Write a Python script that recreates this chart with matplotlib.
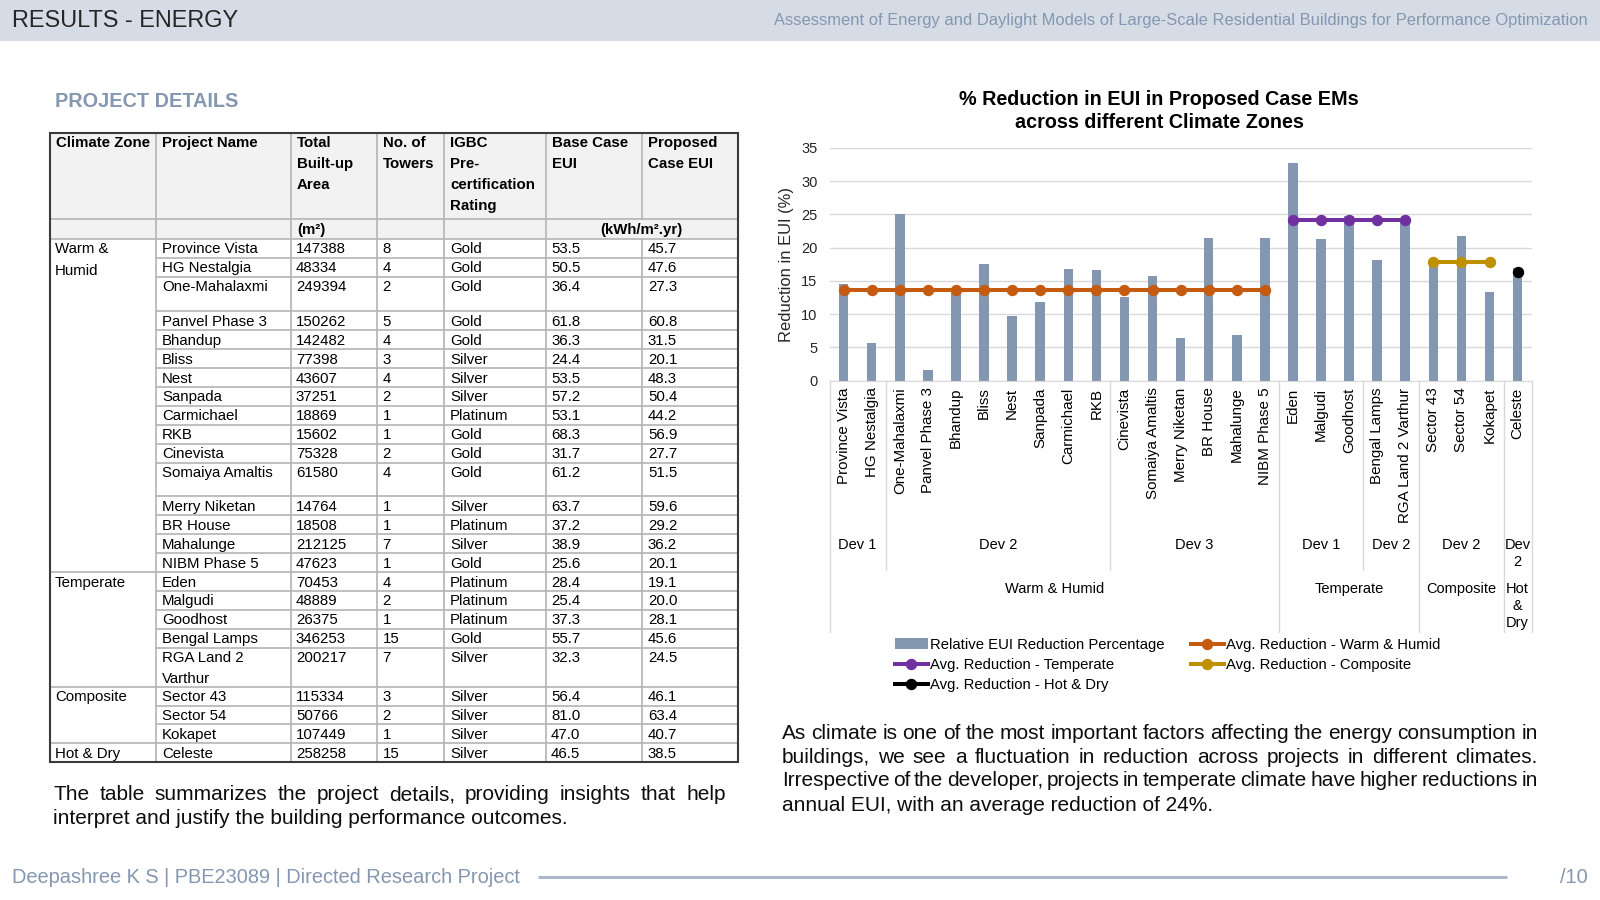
import numpy as np
import matplotlib
matplotlib.use('Agg')
import matplotlib.pyplot as plt
from matplotlib.patches import Rectangle
from matplotlib.transforms import blended_transform_factory

plt.rcParams['font.family'] = ['Liberation Sans', 'DejaVu Sans']

# ------------------------------------------------------------------ data
projects = ["Province Vista", "HG Nestalgia", "One-Mahalaxmi", "Panvel Phase 3", "Bhandup",
            "Bliss", "Nest", "Sanpada", "Carmichael", "RKB", "Cinevista", "Somaiya Amaltis",
            "Merry Niketan", "BR House", "Mahalunge", "NIBM Phase 5", "Eden", "Malgudi",
            "Goodhost", "Bengal Lamps", "RGA Land 2 Varthur", "Sector 43", "Sector 54",
            "Kokapet", "Celeste"]
table_project_names = [p if p != "RGA Land 2 Varthur" else "RGA Land 2\nVarthur" for p in projects]
built_up_area = [147388, 48334, 249394, 150262, 142482, 77398, 43607, 37251, 18869, 15602,
                 75328, 61580, 14764, 18508, 212125, 47623, 70453, 48889, 26375, 346253,
                 200217, 115334, 50766, 107449, 258258]
towers = [8, 4, 2, 5, 4, 3, 4, 2, 1, 1, 2, 4, 1, 1, 7, 1, 4, 2, 1, 15, 7, 3, 2, 1, 15]
igbc_rating = ["Gold", "Gold", "Gold", "Gold", "Gold", "Silver", "Silver", "Silver", "Platinum",
               "Gold", "Gold", "Gold", "Silver", "Platinum", "Silver", "Gold", "Platinum",
               "Platinum", "Platinum", "Gold", "Silver", "Silver", "Silver", "Silver", "Silver"]
base_eui = [53.5, 50.5, 36.4, 61.8, 36.3, 24.4, 53.5, 57.2, 53.1, 68.3, 31.7, 61.2, 63.7,
            37.2, 38.9, 25.6, 28.4, 25.4, 37.3, 55.7, 32.3, 56.4, 81.0, 47.0, 46.5]
proposed_eui = [45.7, 47.6, 27.3, 60.8, 31.5, 20.1, 48.3, 50.4, 44.2, 56.9, 27.7, 51.5, 59.6,
                29.2, 36.2, 20.1, 19.1, 20.0, 28.1, 45.6, 24.5, 46.1, 63.4, 40.7, 38.5]

table_zone_labels = ["Warm &\nHumid", "Temperate", "Composite", "Hot & Dry"]
chart_zone_labels = ["Warm & Humid", "Temperate", "Composite", "Hot\n&\nDry"]
zone_counts = [16, 5, 3, 1]
dev_labels = ["Dev 1", "Dev 2", "Dev 3", "Dev 1", "Dev 2", "Dev 2", "Dev\n2"]
dev_counts = [2, 8, 6, 3, 2, 3, 1]

reduction_pct = [14.6, 5.7, 25.0, 1.6, 13.2, 17.6, 9.7, 11.9, 16.8, 16.7, 12.6, 15.8, 6.4,
                 21.5, 6.9, 21.5, 32.7, 21.3, 24.7, 18.1, 24.1, 18.3, 21.7, 13.4, 17.0]
avg_reduction = [13.6, 24.2, 17.8, 16.4]   # Warm & Humid, Temperate, Composite, Hot & Dry
avg_labels = ["Avg. Reduction - Warm & Humid", "Avg. Reduction - Temperate",
              "Avg. Reduction - Composite", "Avg. Reduction - Hot & Dry"]
bar_label = "Relative EUI Reduction Percentage"

header_cols = ["Climate Zone", "Project Name", "Total\nBuilt-up\nArea", "No. of\nTowers",
               "IGBC\nPre-\ncertification\nRating", "Base Case\nEUI", "Proposed\nCase EUI"]

# ------------------------------------------------------------------ figure
W, H = 1568.0, 882.0
fig = plt.figure(figsize=(16, 9), dpi=100)
renderer = fig.canvas.get_renderer()
PX = 1600.0 / W

cv = fig.add_axes([0, 0, 1, 1])
cv.set_xlim(0, W)
cv.set_ylim(H, 0)
cv.axis('off')

def fy(y):
    return 1 - y / H

def fx(x):
    return x / W

# header band
cv.add_patch(Rectangle((0, 0), W, 40, color='#d6dce5', lw=0))
cv.text(12, 20, "RESULTS - ENERGY", fontsize=16.9, color='#262626', va='center', ha='left')
cv.text(1556, 20, "Assessment of Energy and Daylight Models of Large-Scale Residential Buildings for Performance Optimization",
        fontsize=11.9, color='#8497b0', va='center', ha='right')
cv.text(54, 99, "PROJECT DETAILS", fontsize=14.3, color='#8497b0', fontweight='bold', va='center')

# ------------------------------------------------------------------ table
cols_x = [49, 153, 285, 369, 435, 535, 629, 723]
t_top, t_hdr, t_units = 130, 215, 234
row_h = [18.55] * len(projects)
row_h[2] = 34
row_h[11] = 33
row_h[20] = 38
row_tops = [t_units]
for h in row_h:
    row_tops.append(row_tops[-1] + h)
t_bot = row_tops[-1]
fs_tab = 10.8
grid_c = '#b4b4b4'
tlw = 1.2

cv.add_patch(Rectangle((cols_x[0], t_top), cols_x[-1] - cols_x[0], t_units - t_top,
                       color='#f2f2f2', lw=0, zorder=0))
# vertical lines
for i, xc in enumerate(cols_x[1:-1], start=1):
    if i == 6:
        cv.plot([xc, xc], [t_top, t_hdr], color=grid_c, lw=tlw)
        cv.plot([xc, xc], [t_units, t_bot], color=grid_c, lw=tlw)
    else:
        cv.plot([xc, xc], [t_top, t_bot], color=grid_c, lw=tlw)
# horizontal lines
cv.plot([cols_x[0], cols_x[-1]], [t_hdr, t_hdr], color=grid_c, lw=tlw)
cv.plot([cols_x[0], cols_x[-1]], [t_units, t_units], color=grid_c, lw=tlw)
zone_starts = np.cumsum([0] + zone_counts)
for r in range(1, len(projects)):
    x0 = cols_x[0] if r in zone_starts else cols_x[1]
    cv.plot([x0, cols_x[-1]], [row_tops[r], row_tops[r]], color=grid_c, lw=tlw)
cv.add_patch(Rectangle((cols_x[0], t_top), cols_x[-1] - cols_x[0], t_bot - t_top,
                       fill=False, ec='#3a3a3a', lw=1.5, zorder=5))

def cell_text(x, ytop, s, bold=False, step=20.4, first=10.2):
    for k, line in enumerate(s.split('\n')):
        cv.text(x, ytop + first + k * step, line, fontsize=fs_tab, va='center', ha='left',
                fontweight='bold' if bold else 'normal', color='#000000')

for c, hdr in enumerate(header_cols):
    cell_text(cols_x[c] + 6, t_top, hdr, bold=True)
cv.text(cols_x[2] + 6, 225, "(m²)", fontsize=fs_tab, fontweight='bold', va='center', ha='left')
cv.text(cols_x[6], 225, "(kWh/m².yr)", fontsize=fs_tab, fontweight='bold', va='center', ha='center')

for z, zl in enumerate(table_zone_labels):
    cell_text(cols_x[0] + 5, row_tops[zone_starts[z]], zl, step=21)
for r in range(len(projects)):
    yt = row_tops[r]
    cell_text(cols_x[1] + 6, yt, table_project_names[r], step=20)
    cell_text(cols_x[2] + 5, yt, f"{built_up_area[r]}")
    cell_text(cols_x[3] + 6, yt, f"{towers[r]}")
    cell_text(cols_x[4] + 6, yt, igbc_rating[r])
    cell_text(cols_x[5] + 5, yt, f"{base_eui[r]:.1f}")
    cell_text(cols_x[6] + 6, yt, f"{proposed_eui[r]:.1f}")

# ------------------------------------------------------------------ paragraphs
fs_par = 15.0

def para_line(s, x0, x1, y, justify=True):
    if not justify:
        cv.text(x0, y, s, fontsize=fs_par, va='center', ha='left', color='#0d0d0d')
        return
    words = s.split(' ')
    widths = []
    for w in words:
        t = cv.text(0, 0, w, fontsize=fs_par)
        widths.append(t.get_window_extent(renderer).width / PX)
        t.remove()
    gap = (x1 - x0 - sum(widths)) / (len(words) - 1)
    x = x0
    for w, wd in zip(words, widths):
        cv.text(x, y, w, fontsize=fs_par, va='center', ha='left', color='#0d0d0d')
        x += wd + gap

para_line("The table summarizes the project details, providing insights that help", 52, 711, 779)
para_line("interpret and justify the building performance outcomes.", 52, 711, 802, justify=False)
para_line("As climate is one of the most important factors affecting the energy consumption in", 766, 1507, 719)
para_line("buildings, we see a fluctuation in reduction across projects in different climates.", 766, 1507, 742)
para_line("Irrespective of the developer, projects in temperate climate have higher reductions in", 766, 1507, 765)
para_line("annual EUI, with an average reduction of 24%.", 766, 1507, 789, justify=False)

# footer
cv.text(12, 860, "Deepashree K S | PBE23089 | Directed Research Project", fontsize=14.4,
        color='#8497b0', va='center', ha='left')
cv.plot([527, 1477], [859, 859], color='#adb9ca', lw=2.2, solid_capstyle='butt')
cv.text(1556, 860, "/10", fontsize=14.4, color='#8497b0', va='center', ha='right')

# ------------------------------------------------------------------ chart
ax_l, ax_r, ax_b, ax_t = 813, 1501, 373, 145
ax = fig.add_axes([fx(ax_l), fy(ax_b), fx(ax_r) - fx(ax_l), (ax_b - ax_t) / H])
ax.set_facecolor('none')
x = np.arange(len(projects))
bars = ax.bar(x, reduction_pct, width=0.34, color='#8497b0', zorder=2, label=bar_label)

avg_colors = ['#c55a11', '#7030a0', '#bf9000', '#000000']
avg_lines = []
start = 0
for cnt, val, col, lab in zip(zone_counts, avg_reduction, avg_colors, avg_labels):
    idx = x[start:start + cnt]
    ln, = ax.plot(idx, [val] * cnt, color=col, lw=2.9, marker='o', markersize=7.2,
                  zorder=3, label=lab)
    avg_lines.append(ln)
    start += cnt

ax.set_xlim(-0.5, len(projects) - 0.5)
ax.set_ylim(0, 35)
ax.set_yticks(np.arange(0, 36, 5))
ax.yaxis.grid(True, color='#d9d9d9', lw=1.0, zorder=0)
ax.set_axisbelow(True)
for s in ['left', 'top', 'right']:
    ax.spines[s].set_visible(False)
ax.spines['bottom'].set_color('#d9d9d9')
ax.tick_params(axis='y', length=0, pad=8.8, labelsize=10.5, labelcolor='#262626')
ax.tick_params(axis='x', length=0, pad=5, labelsize=10.9, labelcolor='#000000')
ax.set_xticks(x)
ax.set_xticklabels(projects, rotation=90, va='top', ha='center')
ax.set_ylabel("Reduction in EUI (%)", fontsize=11.9, color='#262626', va='center')
ax.yaxis.set_label_coords((771 - ax_l) / (ax_r - ax_l), 0.5)

ax.text((1136 - ax_l) / (ax_r - ax_l), (ax_b - 109) / (ax_b - ax_t),
        "% Reduction in EUI in Proposed Case EMs\nacross different Climate Zones",
        transform=ax.transAxes, ha='center', va='center', fontsize=14.2,
        fontweight='bold', color='#000000', linespacing=1.25)

bt = blended_transform_factory(ax.transData, fig.transFigure)
# separators
dev_bounds = np.cumsum(dev_counts) - 0.5
zone_bounds = np.cumsum(zone_counts) - 0.5
for b in dev_bounds:
    if b not in zone_bounds:
        ax.plot([b, b], [fy(ax_b), fy(559)], transform=bt, clip_on=False, color='#d9d9d9', lw=1.0)
for b in list(zone_bounds) + [-0.5]:
    ax.plot([b, b], [fy(ax_b), fy(619)], transform=bt, clip_on=False, color='#d9d9d9', lw=1.0)

# developer labels
s0 = 0
for lab, cnt in zip(dev_labels, dev_counts):
    c = s0 + (cnt - 1) / 2.0
    for k, line in enumerate(lab.split('\n')):
        ax.text(c, fy(534 + k * 17), line, transform=bt, ha='center', va='center',
                fontsize=10.5, color='#000000')
    s0 += cnt
s0 = 0
for lab, cnt in zip(chart_zone_labels, zone_counts):
    c = s0 + (cnt - 1) / 2.0
    for k, line in enumerate(lab.split('\n')):
        ax.text(c, fy(577 + k * 17), line, transform=bt, ha='center', va='center',
                fontsize=10.5, color='#000000')
    s0 += cnt

handles = [bars, avg_lines[1], avg_lines[3], avg_lines[0], avg_lines[2]]
labels = [bar_label, avg_labels[1], avg_labels[3], avg_labels[0], avg_labels[2]]
fig.legend(handles, labels, ncol=2, loc='upper left', bbox_to_anchor=(fx(877), fy(625)),
           frameon=False, fontsize=10.7, borderpad=0, borderaxespad=0, handlelength=2.2,
           handletextpad=0.15, columnspacing=1.8, labelspacing=0.42, numpoints=1)

fig.savefig('out.png', dpi=100)
